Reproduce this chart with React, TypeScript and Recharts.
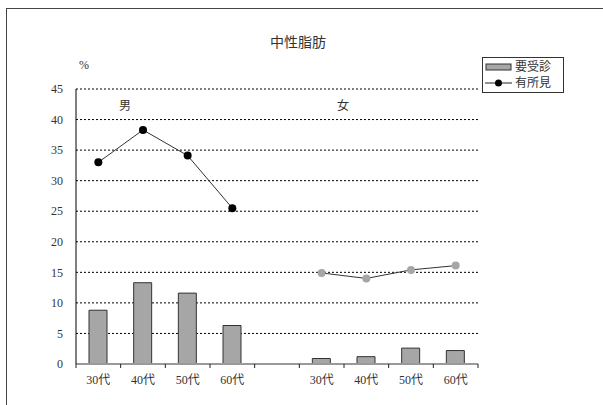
import { ComposedChart, Bar, Line, XAxis, YAxis, CartesianGrid } from 'recharts';

const categories = ['30代', '40代', '50代', '60代', '', '30代', '40代', '50代', '60代'];
const needExam = [8.8, 13.3, 11.6, 6.3, null, 0.9, 1.2, 2.6, 2.2];
const maleFindings = [33.0, 38.3, 34.1, 25.5, null, null, null, null, null];
const femaleFindings = [null, null, null, null, null, 14.9, 14.0, 15.4, 16.1];
const yTicks = [0, 5, 10, 15, 20, 25, 30, 35, 40, 45];

const barName = '要受診';
const lineName = '有所見';

const data = categories.map((c, i) => ({
  id: i,
  label: c,
  needExam: needExam[i],
  male: maleFindings[i],
  female: femaleFindings[i],
}));

const W = 603;
const H = 405;
const M = { top: 89, right: 125, bottom: 11, left: 36 };
const Y_W = 40;
const X_H = 30;
const BAND = (W - M.left - Y_W - M.right) / categories.length;

const FONT = '"Liberation Serif", "Noto Sans CJK JP", serif';
const TEXT = '#333';

function XTick(props: any) {
  const { x, y, payload, index } = props;
  const half = BAND / 2;
  return (
    <g>
      <line x1={x - half} x2={x - half} y1={y} y2={y + 4} stroke="#222" />
      {index === categories.length - 1 && (
        <line x1={x + half} x2={x + half} y1={y} y2={y + 4} stroke="#222" />
      )}
      <text x={x} y={y + 16} textAnchor="middle" dominantBaseline="central" fontSize={12} fill={TEXT} fontFamily={FONT}>
        {categories[payload.value]}
      </text>
    </g>
  );
}

function LegendBox() {
  return (
    <div style={{ position: 'absolute', left: 482, top: 57, border: '1px solid #333', background: '#fff', padding: '1px 2px', fontSize: 12, lineHeight: '16px', color: TEXT, fontFamily: FONT, width: 76 }}>
      <div style={{ display: 'flex', alignItems: 'center' }}>
        <svg width={28} height={10}>
          <rect x={1} y={2} width={25} height={6} fill="#a6a6a6" stroke="#333" />
        </svg>
        <span style={{ marginLeft: 2 }}>{barName}</span>
      </div>
      <div style={{ display: 'flex', alignItems: 'center' }}>
        <svg width={28} height={10}>
          <line x1={0} x2={27} y1={5} y2={5} stroke="#222" />
          <circle cx={13.5} cy={5} r={3.5} fill="#000" />
        </svg>
        <span style={{ marginLeft: 2 }}>{lineName}</span>
      </div>
    </div>
  );
}

export default function App() {
  return (
    <div style={{ position: 'absolute', left: 0, top: 0, width: W, height: H, overflow: 'hidden', background: '#fff', fontFamily: FONT }}>
      <div style={{ position: 'absolute', left: 6, top: 8, width: 700, height: 500, borderLeft: '1px solid #444', borderTop: '1px solid #444' }} />
      <ComposedChart width={W} height={H} data={data} margin={M} style={{ position: 'absolute', left: 0, top: 0 }}>
        <CartesianGrid vertical={false} stroke="#000" strokeDasharray="2 2" />
        <XAxis
          dataKey="id"
          type="category"
          height={X_H}
          axisLine={{ stroke: '#999', strokeWidth: 2 }}
          tickLine={false}
          tickSize={0}
          tickMargin={0}
          interval={0}
          tick={<XTick />}
        />
        <YAxis
          width={Y_W}
          domain={[0, 45]}
          ticks={yTicks}
          interval={0}
          axisLine={{ stroke: '#000' }}
          tickLine={false}
          tickSize={5}
          tickMargin={8}
          tick={{ fontSize: 12, fill: TEXT, fontFamily: FONT }}
        />
        <Bar dataKey="needExam" name={barName} barSize={18} fill="#a6a6a6" stroke="#333" isAnimationActive={false} />
        <Line dataKey="male" name={lineName} stroke="#333" strokeWidth={1} dot={{ r: 4, fill: '#000', stroke: 'none' }} activeDot={false} isAnimationActive={false} />
        <Line dataKey="female" name={lineName} stroke="#333" strokeWidth={1} dot={{ r: 4, fill: '#a6a6a6', stroke: 'none' }} activeDot={false} isAnimationActive={false} />
      </ComposedChart>
      <div style={{ position: 'absolute', left: 0, width: 596, top: 31, textAlign: 'center', fontSize: 14, color: TEXT }}>中性脂肪</div>
      <div style={{ position: 'absolute', left: 79, top: 58, fontSize: 12, color: TEXT }}>%</div>
      <div style={{ position: 'absolute', left: 119, top: 96, fontSize: 12, color: TEXT }}>男</div>
      <div style={{ position: 'absolute', left: 337, top: 96, fontSize: 12, color: TEXT }}>女</div>
      <LegendBox />
    </div>
  );
}
